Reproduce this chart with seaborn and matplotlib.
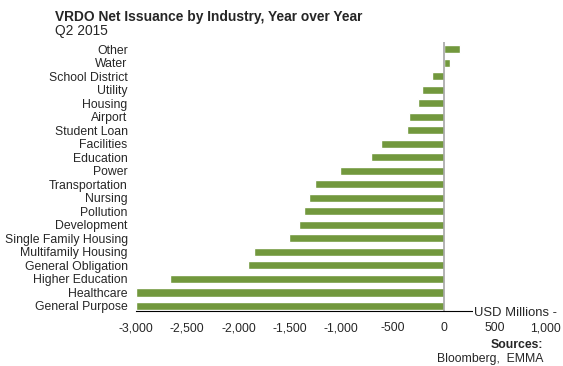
import matplotlib
matplotlib.use("Agg")
import matplotlib.pyplot as plt
import seaborn as sns
import pandas as pd

categories = ["Other", "Water", "School District", "Utility", "Housing", "Airport",
              "Student Loan", "Facilities", "Education", "Power", "Transportation",
              "Nursing", "Pollution", "Development", "Single Family Housing",
              "Multifamily Housing", "General Obligation", "Higher Education",
              "Healthcare", "General Purpose"]
values = [160, 63, -112, -209, -244, -335, -356, -614, -712, -1008, -1256,
          -1308, -1364, -1409, -1507, -1852, -1908, -2668, -3000, -3000]
xticks = [-3000, -2500, -2000, -1500, -1000, -500, 0, 500, 1000]
xticklabels = ["-3,000", "-2,500", "-2,000", "-1,500", "-1,000", "-500", "0", "500", "1,000"]

df = pd.DataFrame({"Industry": categories, "Value": values})

sns.set_style("white")
plt.rcParams["font.family"] = ["Liberation Sans", "DejaVu Sans"]

fig = plt.figure(figsize=(5.63, 3.66), dpi=100)
ax = fig.add_axes([0.2416, 0.1503, 0.7282, 0.7349])

sns.barplot(data=df, x="Value", y="Industry", order=categories, orient="h",
            color="#72983d", saturation=1, width=0.6, ax=ax)

ax.set_xlim(-3000, 1000)
ax.set_ylim(19.37, -0.52)
ax.set_xticks(xticks)
ax.set_xticklabels(xticklabels)
ax.tick_params(axis="both", length=0, labelsize=8.8)
ax.tick_params(axis="x", pad=8)
ax.tick_params(axis="y", pad=6)
ax.set_xlabel("")
ax.set_ylabel("")
for s in ["top", "right", "left"]:
    ax.spines[s].set_visible(False)
ax.spines["bottom"].set_color("black")
ax.spines["bottom"].set_linewidth(0.8)
ax.axvline(0, color="#a6a6a6", lw=1.2, zorder=2)

fig.text(474/563, 1 - 313/366, "USD Millions -", fontsize=9.4, ha="left", va="center",
         bbox=dict(facecolor="white", edgecolor="none", pad=1.0))
fig.text(55/563, 1 - 17/366, "VRDO Net Issuance by Industry, Year over Year",
         fontsize=9.9, fontweight="bold", ha="left", va="center")
fig.text(55/563, 1 - 31/366, "Q2 2015", fontsize=9.9, ha="left", va="center")
fig.text(543/563, 1 - 345/366, "Sources:", fontsize=8.8, fontweight="bold", ha="right", va="center")
fig.text(543/563, 1 - 359/366, "Bloomberg,  EMMA", fontsize=8.8, ha="right", va="center")

fig.savefig("out.png", dpi=100)
